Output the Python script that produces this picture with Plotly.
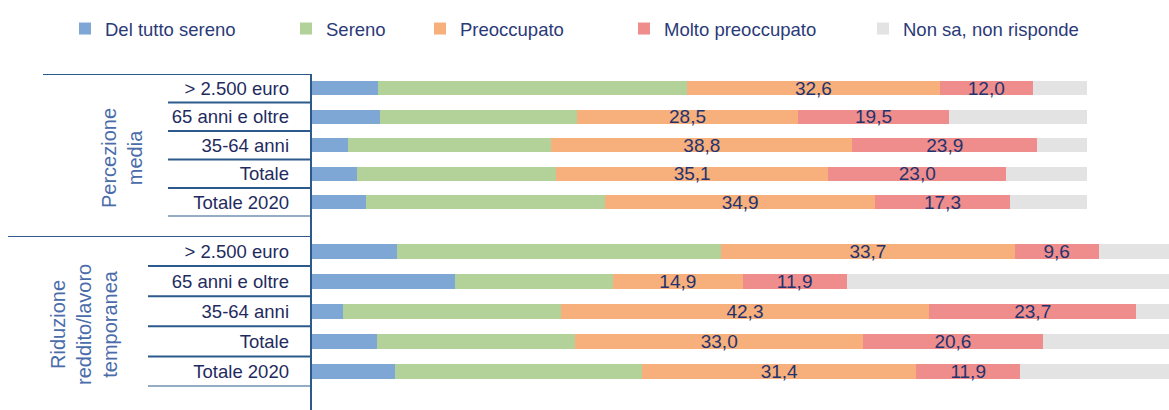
import plotly.graph_objects as go
from plotly.subplots import make_subplots

# ---------------- data ----------------
categories = ["> 2.500 euro", "65 anni e oltre", "35-64 anni", "Totale", "Totale 2020"]
series_names = ["Del tutto sereno", "Sereno", "Preoccupato", "Molto preoccupato", "Non sa, non risponde"]

# Percezione media
pm_del_tutto_sereno = [8.5, 8.8, 4.6, 5.8, 7.0]
pm_sereno = [39.9, 25.4, 26.3, 25.7, 30.8]
pm_preoccupato = [32.6, 28.5, 38.8, 35.1, 34.9]
pm_molto_preoccupato = [12.0, 19.5, 23.9, 23.0, 17.3]
pm_non_sa = [7.0, 17.8, 6.4, 10.4, 10.0]

# Riduzione reddito/lavoro temporanea
rr_del_tutto_sereno = [9.7, 16.4, 3.6, 7.5, 9.5]
rr_sereno = [37.2, 18.1, 24.9, 22.7, 28.4]
rr_preoccupato = [33.7, 14.9, 42.3, 33.0, 31.4]
rr_molto_preoccupato = [9.6, 11.9, 23.7, 20.6, 11.9]
rr_non_sa = [9.8, 38.7, 5.5, 16.2, 18.8]

group_titles = ["Percezione<br>media", "Riduzione<br>reddito/lavoro<br>temporanea"]

# ---------------- style ----------------
W, H = 1169, 410
colors = ["#7EA7D5", "#B3D29A", "#F7AF7B", "#EE8D8C", "#E3E3E3"]
labelled = [False, False, True, True, False]
FONT = "Liberation Sans, Arial, sans-serif"
NAVY = "#24336E"
LINE = "#2C5A8C"
TITLE_BLUE = "#4A6CAA"

def px_x(p):
    return p / W

def px_y(p):
    return 1 - p / H

fig = make_subplots(rows=2, cols=1)

groups = [
    [pm_del_tutto_sereno, pm_sereno, pm_preoccupato, pm_molto_preoccupato, pm_non_sa],
    [rr_del_tutto_sereno, rr_sereno, rr_preoccupato, rr_molto_preoccupato, rr_non_sa],
]
bar_widths = [0.48, 0.5]
legend_ids = ["legend", "legend2", "legend3", "legend4", "legend5"]

for g, series in enumerate(groups):
    for i, vals in enumerate(series):
        fig.add_trace(
            go.Bar(
                y=categories,
                x=vals,
                orientation="h",
                name=series_names[i],
                marker=dict(color=colors[i], line=dict(width=0)),
                width=bar_widths[g],
                texttemplate="%{x:.1f}" if labelled[i] else None,
                textposition="inside" if labelled[i] else "none",
                insidetextanchor="middle",
                textangle=0,
                constraintext="none",
                textfont=dict(family=FONT, size=19, color=NAVY),
                showlegend=(g == 0),
                legend=legend_ids[i],
                hoverinfo="skip",
            ),
            row=g + 1,
            col=1,
        )

fig.update_layout(
    barmode="stack",
    width=W,
    height=H,
    margin=dict(l=0, r=0, t=0, b=0),
    paper_bgcolor="white",
    plot_bgcolor="white",
    separators=",.",
    font=dict(family=FONT, color=NAVY),
)

# x axes
fig.update_layout(
    xaxis=dict(domain=[px_x(312), px_x(1087)], range=[0, 100], visible=False, fixedrange=True),
    xaxis2=dict(domain=[px_x(312), 1.0], range=[0, (W - 312) / 8.72], visible=False, fixedrange=True),
)

yaxis_common = dict(
    type="category",
    range=[4.5, -0.5],
    showgrid=False,
    zeroline=False,
    showline=False,
    ticks="",
    tickfont=dict(family=FONT, size=18.5, color="#1F2B5E"),
    ticklabelstandoff=22,
    fixedrange=True,
)
fig.update_layout(
    yaxis=dict(domain=[px_y(216.4), px_y(74.06)], **yaxis_common),
    yaxis2=dict(domain=[px_y(386.5), px_y(236)], **yaxis_common),
)

# legends (one per series, placed along the top)
legend_text_x = [105, 326, 460, 664, 903]
for lid, tx in zip(legend_ids, legend_text_x):
    fig.update_layout(
        {
            lid: dict(
                orientation="h",
                x=px_x(tx - 40),
                xanchor="left",
                y=px_y(29),
                yanchor="middle",
                font=dict(family=FONT, size=18.5, color="#2B3A78"),
                bgcolor="rgba(0,0,0,0)",
                itemwidth=30,
                itemclick=False,
                itemdoubleclick=False,
            )
        }
    )

# table-like structure lines
shapes = []
shapes.append(dict(type="line", xref="paper", yref="paper", x0=px_x(311), x1=px_x(311),
                   y0=px_y(74), y1=0, line=dict(color=LINE, width=2)))
for yref, x_top, x_sep in [("y", 43, 168), ("y2", 8, 148)]:
    shapes.append(dict(type="line", xref="paper", yref=yref, x0=px_x(x_top), x1=px_x(311),
                       y0=-0.5, y1=-0.5, line=dict(color=LINE, width=2)))
    for k in range(len(categories)):
        shapes.append(dict(type="line", xref="paper", yref=yref, x0=px_x(x_sep), x1=px_x(311),
                           y0=k + 0.5, y1=k + 0.5, line=dict(color=LINE, width=2)))
fig.update_layout(shapes=shapes)

# group titles
fig.add_annotation(text=group_titles[0], xref="paper", yref="paper", x=px_x(122), y=px_y(158),
                   textangle=-90, showarrow=False, xanchor="center", yanchor="middle",
                   font=dict(family=FONT, size=20, color=TITLE_BLUE))
fig.add_annotation(text=group_titles[1], xref="paper", yref="paper", x=px_x(84), y=px_y(325),
                   textangle=-90, showarrow=False, xanchor="center", yanchor="middle",
                   font=dict(family=FONT, size=20, color=TITLE_BLUE))

fig.write_html(
    "out.html",
    config={"displayModeBar": False, "staticPlot": False},
    post_script="document.body.style.margin='0';",
)
